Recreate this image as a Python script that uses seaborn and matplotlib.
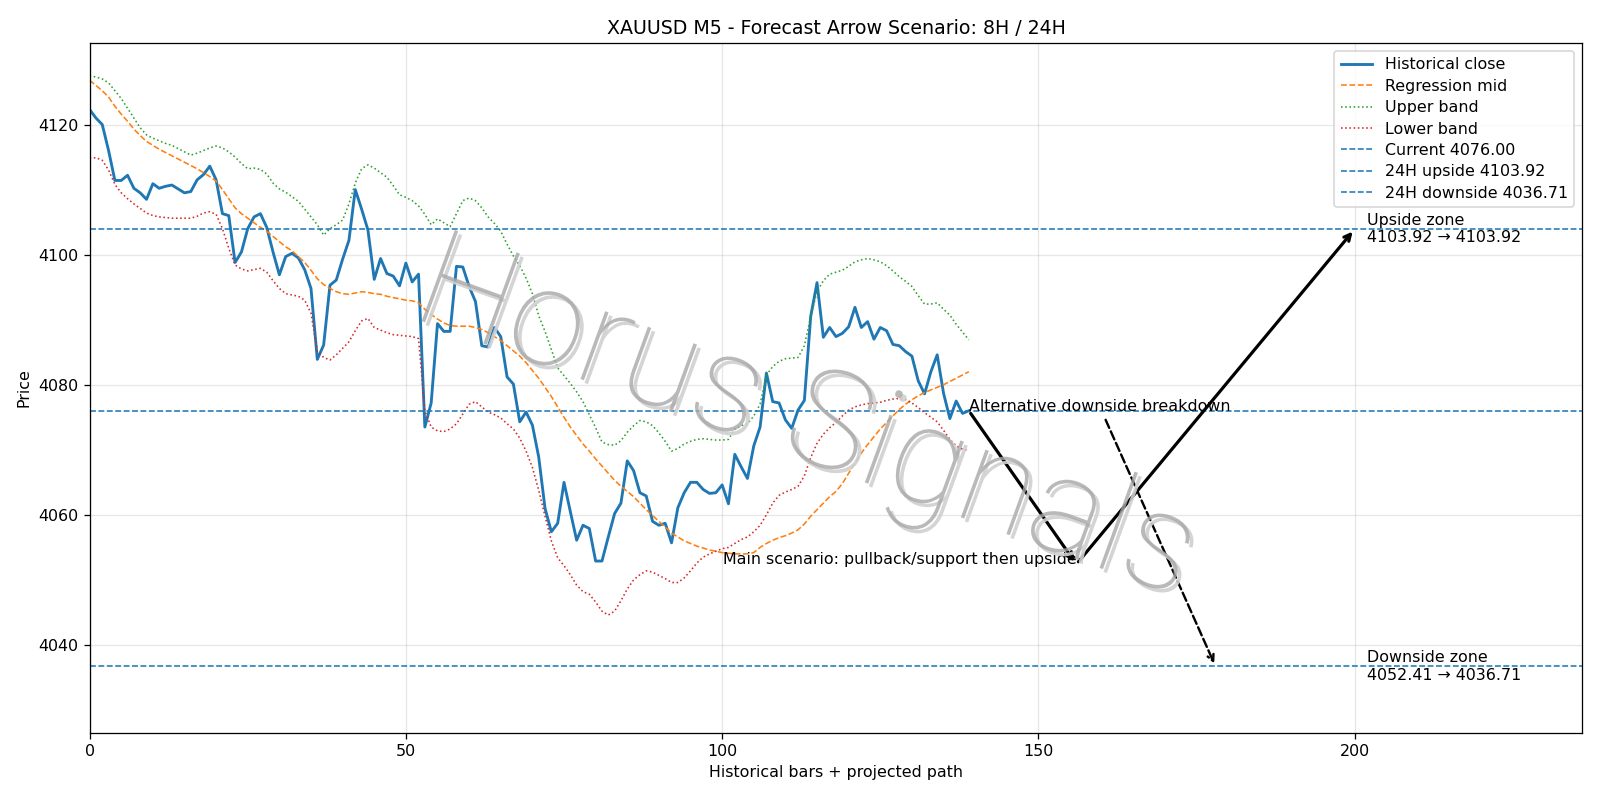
import numpy as np
import seaborn as sns
import matplotlib
matplotlib.use("Agg")
import matplotlib.pyplot as plt
import matplotlib.patheffects as pe

# historical close, 140 M5 bars
close = [
    4122.3, 4121.0, 4120.0, 4116.0, 4111.4, 4111.4, 4112.2, 4110.2, 4109.5, 4108.5,
    4110.9, 4110.2, 4110.5, 4110.7, 4110.1, 4109.5, 4109.7, 4111.5, 4112.3, 4113.6,
    4111.5, 4106.3, 4106.0, 4098.8, 4100.4, 4104.0, 4105.8, 4106.3, 4104.2, 4100.4,
    4096.9, 4099.7, 4100.2, 4099.5, 4097.7, 4094.8, 4083.9, 4086.1, 4095.3, 4096.1,
    4099.3, 4102.2, 4110.0, 4107.0, 4103.8, 4096.2, 4099.4, 4097.1, 4096.7, 4095.2,
    4098.7, 4095.8, 4097.0, 4073.5, 4077.2, 4089.4, 4088.2, 4088.2, 4098.2, 4098.1,
    4095.1, 4092.8, 4086.0, 4085.8, 4088.8, 4087.4, 4081.2, 4080.1, 4074.3, 4075.8,
    4073.8, 4068.9, 4061.0, 4057.4, 4058.7, 4065.0, 4060.5, 4056.1, 4058.4, 4057.9,
    4052.9, 4052.9, 4056.6, 4060.2, 4061.8, 4068.3, 4066.8, 4063.4, 4062.9, 4059.0,
    4058.4, 4058.7, 4055.7, 4061.1, 4063.4, 4065.0, 4065.0, 4063.9, 4063.3, 4063.4,
    4064.6, 4061.7, 4069.3, 4067.4, 4065.6, 4070.6, 4073.5, 4081.8, 4077.4, 4077.2,
    4074.6, 4073.3, 4076.1, 4077.6, 4090.5, 4095.7, 4087.3, 4088.8, 4087.4, 4087.9,
    4088.9, 4091.9, 4088.8, 4089.7, 4087.0, 4088.8, 4088.3, 4086.2, 4086.0, 4085.1,
    4084.4, 4080.6, 4078.6, 4082.0, 4084.6, 4078.7, 4074.8, 4077.5, 4075.6, 4076.0,
]

reg_mid = [
    4126.8, 4126.0, 4125.2, 4124.2, 4122.8, 4121.6, 4120.5, 4119.3, 4118.3, 4117.4,
    4116.8, 4116.2, 4115.7, 4115.2, 4114.7, 4114.2, 4113.7, 4113.2, 4112.6, 4112.0,
    4111.3, 4110.0, 4108.6, 4107.2, 4106.3, 4105.6, 4104.9, 4104.2, 4103.6, 4102.8,
    4102.0, 4101.2, 4100.6, 4099.7, 4098.8, 4097.6, 4096.3, 4095.4, 4094.8, 4094.3,
    4094.0, 4093.9, 4094.1, 4094.3, 4094.2, 4094.0, 4093.9, 4093.6, 4093.4, 4093.2,
    4093.0, 4092.9, 4092.6, 4091.6, 4090.8, 4090.1, 4089.5, 4089.1, 4089.0, 4089.0,
    4089.0, 4088.8, 4088.5, 4088.0, 4087.4, 4086.8, 4086.0, 4085.2, 4084.4, 4083.4,
    4082.2, 4081.0, 4079.6, 4078.2, 4076.6, 4075.0, 4073.5, 4072.2, 4070.9, 4069.8,
    4068.6, 4067.5, 4066.4, 4065.3, 4064.4, 4063.6, 4062.8, 4061.8, 4060.8, 4059.9,
    4059.0, 4058.1, 4057.2, 4056.6, 4056.0, 4055.6, 4055.2, 4054.9, 4054.6, 4054.4,
    4054.2, 4054.1, 4054.0, 4054.0, 4054.0, 4054.2, 4055.0, 4055.6, 4056.1, 4056.5,
    4056.8, 4057.2, 4057.7, 4058.6, 4059.8, 4060.8, 4061.8, 4062.8, 4063.6, 4064.8,
    4066.4, 4068.0, 4069.5, 4070.8, 4072.0, 4073.2, 4074.2, 4075.2, 4076.2, 4077.0,
    4077.7, 4078.3, 4078.8, 4079.2, 4079.6, 4080.0, 4080.5, 4081.0, 4081.5, 4082.0,
]

upper_band = [
    4127.5, 4127.3, 4127.0, 4126.4, 4125.2, 4124.0, 4122.5, 4121.0, 4119.5, 4118.4,
    4117.9, 4117.5, 4117.1, 4116.8, 4116.3, 4115.8, 4115.3, 4115.6, 4116.0, 4116.4,
    4116.7, 4116.4, 4115.8, 4115.0, 4114.0, 4113.2, 4113.3, 4113.1, 4112.4, 4111.0,
    4110.1, 4109.6, 4108.9, 4108.2, 4107.0, 4105.8, 4104.6, 4103.0, 4104.0, 4104.6,
    4105.3, 4107.8, 4111.0, 4113.2, 4113.8, 4113.3, 4112.6, 4111.9, 4110.6, 4109.2,
    4108.8, 4108.3, 4107.5, 4106.2, 4104.6, 4105.5, 4104.9, 4104.3, 4106.3, 4108.3,
    4108.7, 4108.3, 4107.2, 4105.8, 4104.8, 4103.6, 4101.6, 4099.8, 4098.3, 4096.4,
    4094.0, 4090.6, 4088.2, 4085.4, 4082.6, 4081.4, 4080.2, 4078.9, 4077.4, 4075.4,
    4073.4, 4071.2, 4070.8, 4070.7, 4071.4, 4072.7, 4073.7, 4074.5, 4074.3, 4073.7,
    4072.6, 4071.3, 4069.8, 4070.2, 4070.9, 4071.3, 4071.6, 4071.7, 4071.6, 4071.5,
    4071.5, 4071.6, 4073.2, 4073.7, 4074.0, 4075.2, 4077.0, 4081.5, 4082.8, 4083.6,
    4084.0, 4084.1, 4084.2, 4086.0, 4090.5, 4094.3, 4096.0, 4097.0, 4097.3, 4097.6,
    4098.2, 4098.9, 4099.2, 4099.4, 4099.2, 4098.9, 4098.3, 4097.5, 4096.6, 4095.9,
    4095.1, 4093.7, 4092.4, 4092.4, 4092.6, 4091.6, 4090.7, 4089.3, 4088.1, 4086.9,
]

lower_band = [
    4114.8, 4114.9, 4114.5, 4113.0, 4110.8, 4109.5, 4108.6, 4107.8, 4107.1, 4106.4,
    4106.0, 4105.8, 4105.7, 4105.6, 4105.6, 4105.6, 4105.6, 4105.9, 4106.4, 4106.6,
    4106.2, 4104.0, 4101.0, 4098.4, 4097.8, 4097.5, 4097.7, 4097.9, 4097.3, 4096.0,
    4094.8, 4094.0, 4093.8, 4093.6, 4093.0, 4091.0, 4085.2, 4084.2, 4083.8, 4084.6,
    4085.6, 4086.6, 4088.3, 4089.8, 4090.2, 4088.8, 4088.4, 4088.0, 4087.7, 4087.6,
    4087.5, 4087.4, 4087.1, 4076.0, 4073.5, 4072.9, 4072.8, 4073.2, 4074.0, 4075.5,
    4077.0, 4077.4, 4076.6, 4075.8, 4075.4, 4074.9, 4074.0, 4073.2, 4071.8, 4069.8,
    4067.3, 4063.8, 4059.8, 4056.0, 4053.4, 4052.2, 4050.8, 4049.2, 4048.2, 4047.8,
    4046.6, 4045.2, 4044.6, 4045.2, 4046.8, 4048.6, 4050.0, 4050.8, 4051.4, 4051.2,
    4050.7, 4050.2, 4049.6, 4049.6, 4050.3, 4051.4, 4052.6, 4053.5, 4054.0, 4054.4,
    4054.8, 4055.0, 4055.6, 4056.2, 4056.6, 4057.4, 4058.4, 4060.0, 4061.8, 4063.0,
    4063.5, 4063.9, 4064.4, 4066.0, 4068.8, 4071.0, 4072.4, 4073.4, 4074.2, 4075.2,
    4076.1, 4076.6, 4076.9, 4077.1, 4077.2, 4077.3, 4077.6, 4077.8, 4077.9, 4077.7,
    4077.2, 4076.5, 4075.7, 4075.0, 4074.3, 4073.0, 4071.6, 4070.6, 4070.1, 4069.9,
]

current = 4076.00
up_24h = 4103.92
down_24h = 4036.71
pullback = 4052.41
pullback_bar = 156
target_bar = 200
alt_bar = 178

bars = np.arange(len(close))

fig, ax = plt.subplots(figsize=(14, 7), dpi=1600 / 14)

sns.lineplot(x=bars, y=close, ax=ax, color="C0", lw=1.8, label="Historical close")
sns.lineplot(x=bars, y=reg_mid, ax=ax, color="C1", lw=1, linestyle="--", label="Regression mid")
sns.lineplot(x=bars, y=upper_band, ax=ax, color="C2", lw=1, linestyle=":", label="Upper band")
sns.lineplot(x=bars, y=lower_band, ax=ax, color="C3", lw=1, linestyle=":", label="Lower band")

ax.axhline(current, color="C0", lw=1, linestyle="--", label=f"Current {current:.2f}")
ax.axhline(up_24h, color="C0", lw=1, linestyle="--", label=f"24H upside {up_24h:.2f}")
ax.axhline(down_24h, color="C0", lw=1, linestyle="--", label=f"24H downside {down_24h:.2f}")

last = len(close) - 1

# main path: pullback then upside
ax.annotate("", xy=(pullback_bar, pullback), xytext=(last, current),
            arrowprops=dict(arrowstyle="->", color="black", lw=2))
ax.annotate("", xy=(target_bar, up_24h), xytext=(pullback_bar, pullback),
            arrowprops=dict(arrowstyle="->", color="black", lw=2))
ax.text(pullback_bar, pullback, "Main scenario: pullback/support then upside",
        ha="right", va="baseline", fontsize=10)

# alternative path
ax.annotate("Alternative downside breakdown", xy=(alt_bar, down_24h), xytext=(last, current),
            fontsize=10,
            arrowprops=dict(arrowstyle="->", color="black", lw=1.5, linestyle="--"))

ax.text(target_bar + 2, up_24h, f"Upside zone\n{up_24h:.2f} \u2192 {up_24h:.2f}",
        va="center", fontsize=10)
ax.text(target_bar + 2, down_24h, f"Downside zone\n{pullback:.2f} \u2192 {down_24h:.2f}",
        va="center", fontsize=10)

# watermark
ax.text(0.48, 0.45, "Horus Signals", transform=ax.transAxes, ha="center", va="center",
        rotation=-20, fontsize=86, family=["Roboto", "DejaVu Sans"], fontweight=100,
        color="#a8a8a8", alpha=0.8, zorder=5,
        path_effects=[pe.SimplePatchShadow(offset=(2.5, -2.5), shadow_rgbFace="#d0d0d0", alpha=0.9),
                      pe.Normal()])

ax.set_xlim(0, 236)
ax.set_ylim(4026.5, 4132.5)
ax.set_title("XAUUSD M5 - Forecast Arrow Scenario: 8H / 24H", fontsize=12)
ax.set_xlabel("Historical bars + projected path")
ax.set_ylabel("Price")
ax.grid(True, alpha=0.3)
ax.legend(loc="upper right", fontsize=10, labelspacing=0.4)

fig.subplots_adjust(left=0.056, right=0.989, top=0.946, bottom=0.084)
fig.savefig("out.png", dpi=1600 / 14)
